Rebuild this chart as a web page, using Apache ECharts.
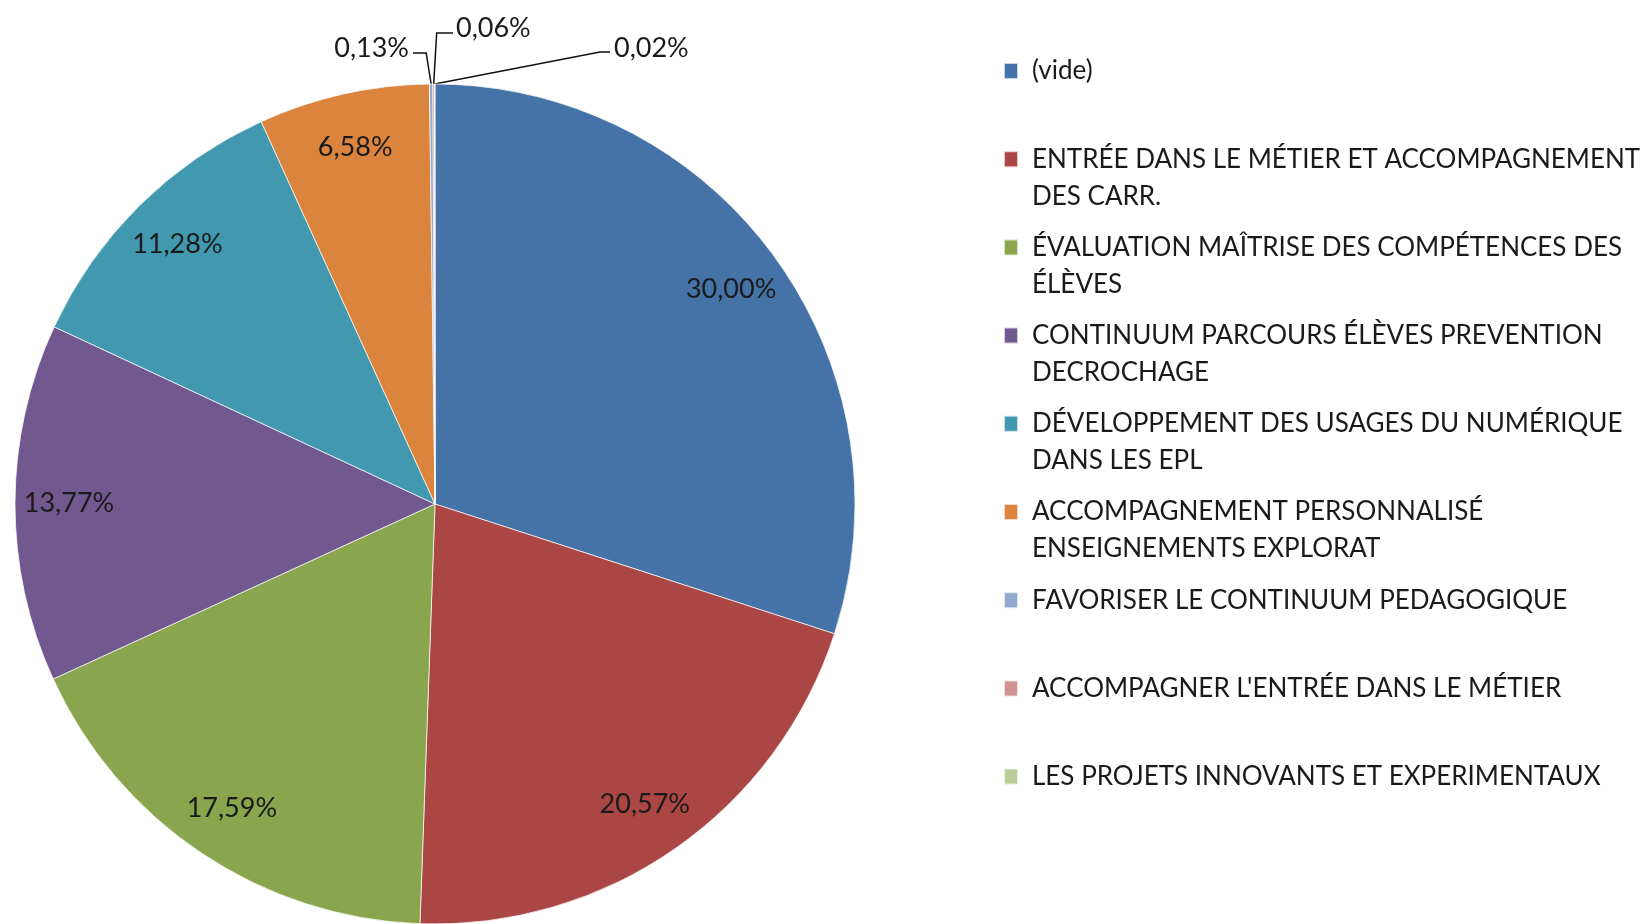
<!DOCTYPE html>
<html>
<head>
<meta charset="utf-8">
<script src="https://cdn.jsdelivr.net/npm/echarts@6/dist/echarts.min.js"></script>
<style>
  html, body { margin: 0; padding: 0; background: #fff; }
  #main { width: 1646px; height: 924px; }
</style>
</head>
<body>
<div id="main"></div>
<script>
var categories = [
  '(vide)',
  'ENTRÉE DANS LE MÉTIER ET ACCOMPAGNEMENT\nDES CARR.',
  'ÉVALUATION MAÎTRISE DES COMPÉTENCES DES\nÉLÈVES',
  'CONTINUUM PARCOURS ÉLÈVES PREVENTION\nDECROCHAGE',
  'DÉVELOPPEMENT DES USAGES DU NUMÉRIQUE\nDANS LES EPL',
  'ACCOMPAGNEMENT PERSONNALISÉ\nENSEIGNEMENTS EXPLORAT',
  'FAVORISER LE CONTINUUM PEDAGOGIQUE',
  "ACCOMPAGNER L'ENTRÉE DANS LE MÉTIER",
  'LES PROJETS INNOVANTS ET EXPERIMENTAUX'
];
var percents = [30.00, 20.57, 17.59, 13.77, 11.28, 6.58, 0.13, 0.06, 0.02];
var colors = ['#4572A7', '#AA4643', '#89A54E', '#71588F', '#4198AF', '#DB843D', '#93A9CF', '#D19392', '#B9CD96'];

var FONT = 'Lato';
var TEXT = '#1a1a1a';
var R = 420;
var center = [435, 504];
var nBig = 6; // slices labelled inside

function fmt(v) {
  return v.toFixed(2).replace('.', ',') + '%';
}

var chart = echarts.init(document.getElementById('main'), null, {renderer: 'canvas'});

// one legend per entry so that every entry gets the same slot, like Excel
// two-line names get an empty line on top so the icon sits on the first line
var lh = 37;
var legends = categories.map(function (name, i) {
  var yc = 71 + 88.2 * i;
  var twoLines = name.indexOf('\n') >= 0;
  return {
    orient: 'vertical',
    left: 1003,
    top: twoLines ? yc - 1.5 * lh : yc - lh / 2,
    padding: 0,
    selectedMode: false,
    icon: 'rect',
    itemWidth: 14,
    itemHeight: 16,
    itemGap: 0,
    data: [name],
    formatter: function (n) { return twoLines ? ' \n' + n : n; },
    textStyle: {
      fontFamily: FONT,
      fontSize: 26,
      color: TEXT,
      lineHeight: lh,
      padding: [0, 0, 0, 9]
    }
  };
});

// outside labels for the three tiny slices, Excel style leader lines
var outerLayout = {
  6: {dx1: -5, y1: 53, x2: 413, lx: 409, ly: 48, align: 'right'},
  7: {dx1: 3, y1: 33, x2: 453, lx: 456, ly: 28, align: 'left'},
  8: {dx1: 0, y1: 52, x2: 610, lx: 614, ly: 48, align: 'left', diag: 600}
};

var option = {
  color: colors,
  animation: false,
  legend: legends,
  series: [
    {
      type: 'pie',
      center: center,
      radius: [0, R],
      startAngle: 90,
      clockwise: true,
      avoidLabelOverlap: false,
      itemStyle: {borderColor: 'rgba(255,255,255,0.7)', borderWidth: 1},
      label: {
        position: 'outside',
        fontFamily: FONT,
        fontSize: 27,
        color: TEXT,
        formatter: function (p) { return fmt(p.value); }
      },
      labelLine: {show: true, length: 10, length2: 10, lineStyle: {color: '#111', width: 1.5}},
      labelLayout: function (p) {
        var c = outerLayout[p.dataIndex];
        if (!c || !p.labelLinePoints) return;
        var s = p.labelLinePoints[0];
        var pts = c.diag
          ? [[s[0], s[1]], [c.diag, c.y1], [c.x2, c.y1]]
          : [[s[0], s[1]], [s[0] + c.dx1, c.y1], [c.x2, c.y1]];
        return {x: c.lx, y: c.ly, align: c.align, verticalAlign: 'middle', labelLinePoints: pts};
      },
      emphasis: {disabled: true},
      data: categories.map(function (name, i) {
        return {name: name, value: percents[i], label: {show: i >= nBig}, labelLine: {show: i >= nBig}};
      })
    },
    {
      // transparent ring that only carries the inside labels
      type: 'pie',
      center: center,
      radius: [306, R],
      startAngle: 90,
      clockwise: true,
      silent: true,
      itemStyle: {color: 'transparent'},
      label: {
        position: 'inside',
        fontFamily: FONT,
        fontSize: 27,
        color: TEXT,
        formatter: function (p) { return fmt(p.value); }
      },
      labelLine: {show: false},
      emphasis: {disabled: true},
      data: categories.map(function (name, i) {
        return {name: name, value: percents[i], label: {show: i < nBig}};
      })
    }
  ]
};

chart.setOption(option);
</script>
</body>
</html>
